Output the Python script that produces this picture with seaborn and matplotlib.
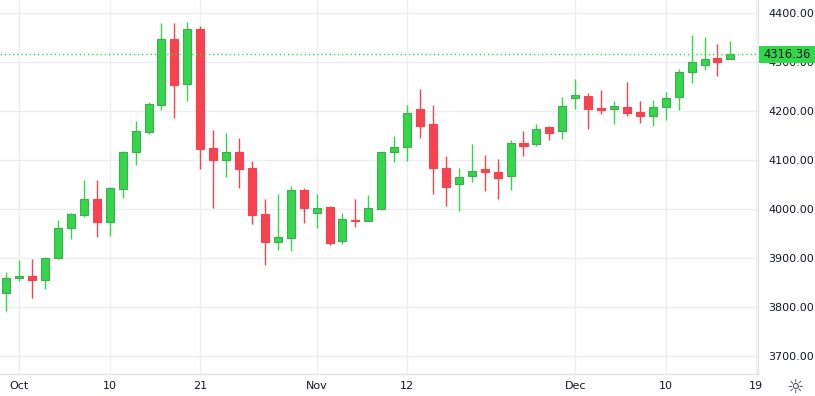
import numpy as np
import pandas as pd
import matplotlib
matplotlib.use("Agg")
import matplotlib.pyplot as plt
import seaborn as sns
from matplotlib.patches import Rectangle

# daily candles (index = trading day position)
opens = [3829, 3860, 3863, 3856, 3899, 3962, 3988, 4021, 3974, 4041,
         4115, 4157, 4212, 4346, 4255, 4366, 4124, 4100, 4115, 4083,
         3989, 3933, 3941, 4038, 3992, 4003, 3934, 3977, 3975, 3999,
         4117, 4127, 4204, 4173, 4083, 4050, 4068, 4081, 4075, 4068,
         4134, 4133, 4167, 4159, 4227, 4230, 4206, 4204, 4207, 4198,
         4190, 4208, 4229, 4280, 4294, 4308, 4306]
highs = [3872, 3896, 3898, 3901, 3977, 3991, 4059, 4059, 4044, 4118,
         4179, 4218, 4380, 4380, 4382, 4373, 4161, 4155, 4145, 4097,
         4020, 4030, 4047, 4042, 4030, 4005, 3991, 4020, 4028, 4115,
         4149, 4212, 4244, 4212, 4108, 4083, 4132, 4110, 4102, 4140,
         4159, 4173, 4169, 4228, 4265, 4236, 4242, 4220, 4259, 4220,
         4222, 4238, 4285, 4355, 4350, 4337, 4342]
lows = [3792, 3852, 3819, 3837, 3898, 3939, 3984, 3943, 3945, 4023,
        4090, 4153, 4202, 4185, 4219, 4081, 4002, 4066, 4043, 3970,
        3886, 3917, 3915, 3972, 3962, 3927, 3929, 3964, 3975, 3999,
        4096, 4098, 4145, 4030, 4006, 3996, 4055, 4037, 4021, 4038,
        4108, 4129, 4141, 4143, 4204, 4163, 4194, 4174, 4190, 4176,
        4170, 4182, 4202, 4257, 4283, 4271, 4306]
closes = [3860, 3863, 3856, 3899, 3962, 3989, 4021, 3974, 4042, 4115,
          4158, 4213, 4346, 4252, 4366, 4122, 4100, 4115, 4082, 3988,
          3933, 3942, 4038, 4002, 4001, 3931, 3979, 3975, 4001, 4115,
          4126, 4195, 4170, 4084, 4045, 4066, 4077, 4076, 4064, 4134,
          4129, 4163, 4155, 4210, 4232, 4204, 4202, 4210, 4196, 4190,
          4207, 4227, 4279, 4299, 4305, 4299, 4316.36]

tick_pos = [1, 8, 15, 24, 31, 44, 51, 58]
tick_labels = ["Oct", "10", "21", "Nov", "12", "Dec", "10", "19"]
price_ticks = [3700, 3800, 3900, 4000, 4100, 4200, 4300, 4400]

last_price = closes[-1]

UP = "#32d74b"
UP_EDGE = "#45a852"
DOWN = "#f7434f"
GRID = "#efeff2"
TEXT = "#131722"

sns.set_theme(style="white")
plt.rcParams['font.family'] = ['DejaVu Sans']

df = pd.DataFrame({"open": opens, "high": highs, "low": lows, "close": closes})
df["x"] = np.arange(len(df))
df["up"] = df["close"] >= df["open"]

fig = plt.figure(figsize=(8.15, 3.96), dpi=100)
ax = fig.add_axes([0, 22 / 396, 758.3 / 815, 374 / 396])

# grid
for t in price_ticks:
    ax.axhline(t, color=GRID, lw=1, zorder=0)
for t in tick_pos:
    ax.axvline(t, color=GRID, lw=1, zorder=0)

# wicks
for _, r in df.iterrows():
    c = UP if r["up"] else DOWN
    ax.vlines(r["x"], r["low"], r["high"], color=c, lw=1, zorder=2)

# bodies
w = 0.62
body_h = np.maximum((df["close"] - df["open"]).abs(), 2.5)
body_b = np.minimum(df["open"], df["close"])
up = df["up"].values
ax.bar(df["x"][up], body_h[up], bottom=body_b[up], width=w, color=UP,
       edgecolor=UP_EDGE, linewidth=0.8, zorder=3)
ax.bar(df["x"][~up], body_h[~up], bottom=body_b[~up], width=w, color=DOWN,
       edgecolor=DOWN, linewidth=0.8, zorder=3)

# last price line
ax.axhline(last_price, color=UP, lw=1, ls=(0, (1, 2)), zorder=4)

ax.set_xlim(-0.487, 58.16)
ax.set_ylim(3663.4, 4425.9)

ax.set_xticks(tick_pos)
ax.set_xticklabels(tick_labels)
ax.set_yticks(price_ticks)
ax.set_yticklabels([f"{t:.2f}" for t in price_ticks])
ax.yaxis.tick_right()
ax.tick_params(axis="both", length=0, labelsize=8, colors=TEXT)
ax.tick_params(axis="y", pad=7)
ax.tick_params(axis="x", pad=5)

for s in ["top", "left"]:
    ax.spines[s].set_visible(False)
for s in ["bottom", "right"]:
    ax.spines[s].set_color("#e0e3eb")
    ax.spines[s].set_linewidth(1)

# price label box
y_lab = 54.3
fig.patches.append(Rectangle((758.5 / 815, (396 - y_lab - 8.5) / 396), 57 / 815, 17 / 396,
                             transform=fig.transFigure, facecolor=UP,
                             edgecolor="none", zorder=5))
fig.text(787 / 815, (396 - y_lab) / 396, f"{last_price:.2f}", ha="center", va="center",
         fontsize=8.3, color=TEXT, zorder=6)

# settings icon
fig.text(795 / 815, (396 - 387) / 396, "\u263c", ha="center", va="center",
         fontsize=14, color="#3b3e48")

fig.savefig("out.png", dpi=100)
